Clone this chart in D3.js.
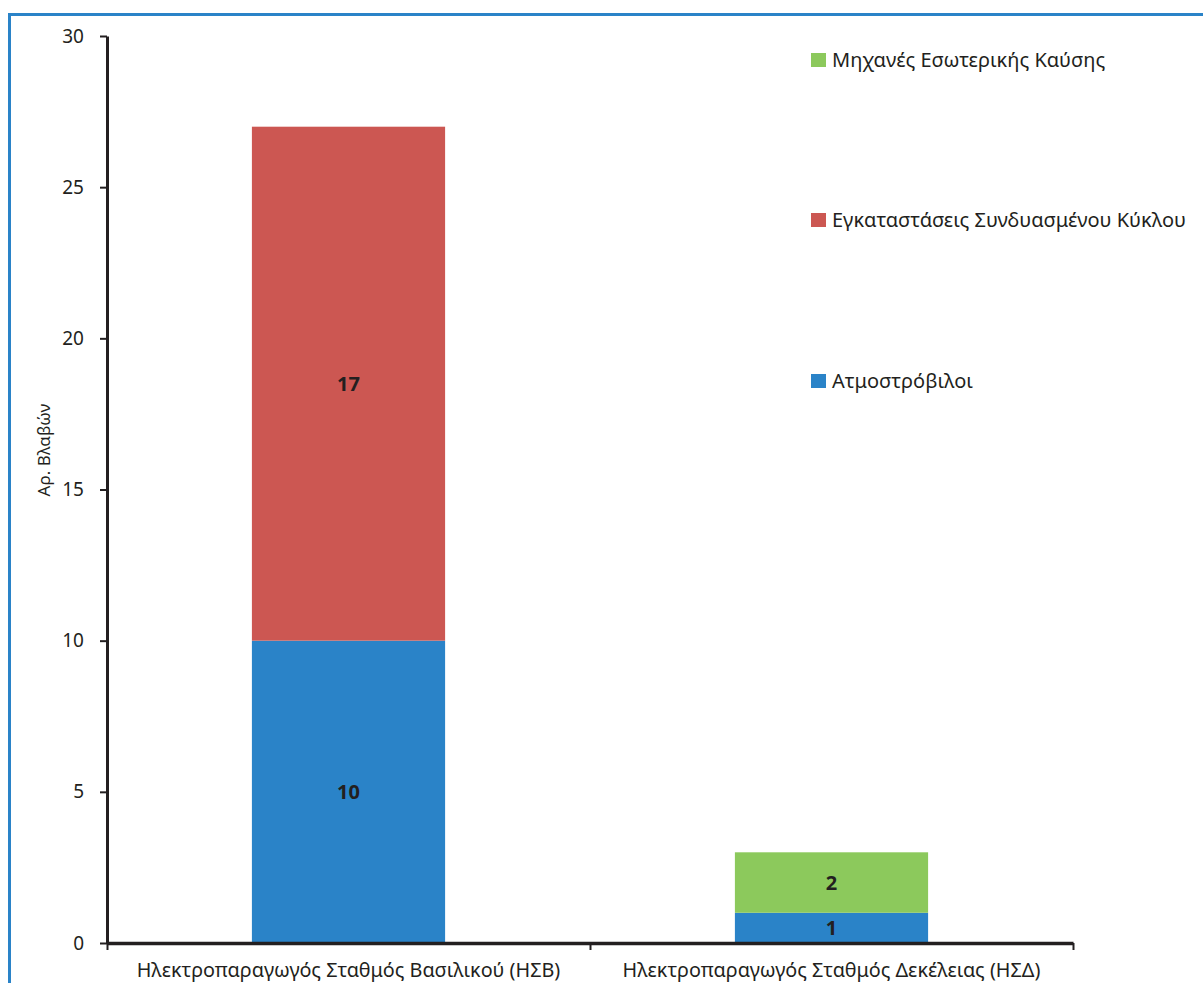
<!DOCTYPE html>
<html><head><meta charset="utf-8">
<script src="https://cdn.jsdelivr.net/npm/d3@7"></script>
<style>body{margin:0;background:#fff}svg{display:block}text{font-family:"Noto Sans","Open Sans",sans-serif;fill:#231f20}</style>
</head><body><svg id="c" width="1203" height="983"></svg>
<script>
const categories = ["Ηλεκτροπαραγωγός Σταθμός Βασιλικού (ΗΣΒ)", "Ηλεκτροπαραγωγός Σταθμός Δεκέλειας (ΗΣΔ)"];
const seriesNames = ["Ατμοστρόβιλοι", "Εγκαταστάσεις Συνδυασμένου Κύκλου", "Μηχανές Εσωτερικής Καύσης"];
const steamTurbines = [10, 1];
const combinedCycle = [17, 0];
const internalCombustion = [0, 2];
const yTicks = [0, 5, 10, 15, 20, 25, 30];
const colors = ["#2a83c8", "#cc5752", "#8cc95c"];
const yTitle = "Αρ. Βλαβών";

const svg = d3.select("#c");
// frame
svg.append("rect").attr("x", 9.5).attr("y", 14.5).attr("width", 1210).attr("height", 1000)
  .attr("fill", "none").attr("stroke", "#2a83c8").attr("stroke-width", 3);

const x0 = 107, x1 = 1073, yTop = 36, yBot = 943;
const x = d3.scaleBand().domain(categories).range([x0, x1]).paddingInner(0).paddingOuter(0);
const y = d3.scaleLinear().domain([0, 30]).range([yBot, yTop]);

const data = categories.map((c, i) => ({cat: c, s0: steamTurbines[i], s1: combinedCycle[i], s2: internalCombustion[i]}));
const stack = d3.stack().keys(["s0", "s1", "s2"])(data);

const bw = x.bandwidth() * 0.4;
stack.forEach((layer, li) => {
  layer.forEach(d => {
    const v = d[1] - d[0];
    if (v <= 0) return;
    const cx = x(d.data.cat) + x.bandwidth() / 2;
    svg.append("rect").attr("x", cx - bw / 2).attr("width", bw)
      .attr("y", y(d[1])).attr("height", y(d[0]) - y(d[1])).attr("fill", colors[li]);
    svg.append("text").attr("x", cx).attr("y", y((d[0] + d[1]) / 2)).attr("dy", "0.36em")
      .attr("text-anchor", "middle").attr("font-size", 20).attr("font-weight", "bold").text(v);
  });
});

// y axis
const yAxis = d3.axisLeft(y).tickValues(yTicks).tickSize(7).tickPadding(16).tickSizeOuter(0);
const gy = svg.append("g").attr("transform", `translate(${x0},0)`).call(yAxis);
gy.select(".domain").attr("stroke", "#231f20").attr("stroke-width", 3);
gy.selectAll(".tick line").attr("stroke", "#231f20").attr("stroke-width", 2);
gy.selectAll(".tick text").attr("font-size", 19).attr("fill", "#231f20").style("font-family", '"Noto Sans","Open Sans",sans-serif');

// x axis
const xAxis = d3.axisBottom(d3.scaleLinear().domain([0, 2]).range([x0, x1])).tickValues([0, 1, 2]).tickSize(7).tickFormat("").tickSizeOuter(0);
const gx = svg.append("g").attr("transform", `translate(0,${yBot})`).call(xAxis);
gx.select(".domain").attr("stroke", "#231f20").attr("stroke-width", 3.5);
gx.selectAll(".tick line").attr("stroke", "#231f20").attr("stroke-width", 2);

categories.forEach(c => {
  svg.append("text").attr("x", x(c) + x.bandwidth() / 2).attr("y", 977)
    .attr("text-anchor", "middle").attr("font-size", 19.8).text(c);
});

svg.append("text").attr("transform", `translate(50,450) rotate(-90)`)
  .attr("text-anchor", "middle").attr("font-size", 17).text(yTitle);

// legend
const legendY = [381, 220, 60];
seriesNames.forEach((n, i) => {
  svg.append("rect").attr("x", 811).attr("y", legendY[i] - 7).attr("width", 15).attr("height", 14).attr("fill", colors[i]);
  svg.append("text").attr("x", 832).attr("y", legendY[i]).attr("dy", "0.36em").attr("font-size", 20).text(n);
});
</script></body></html>
